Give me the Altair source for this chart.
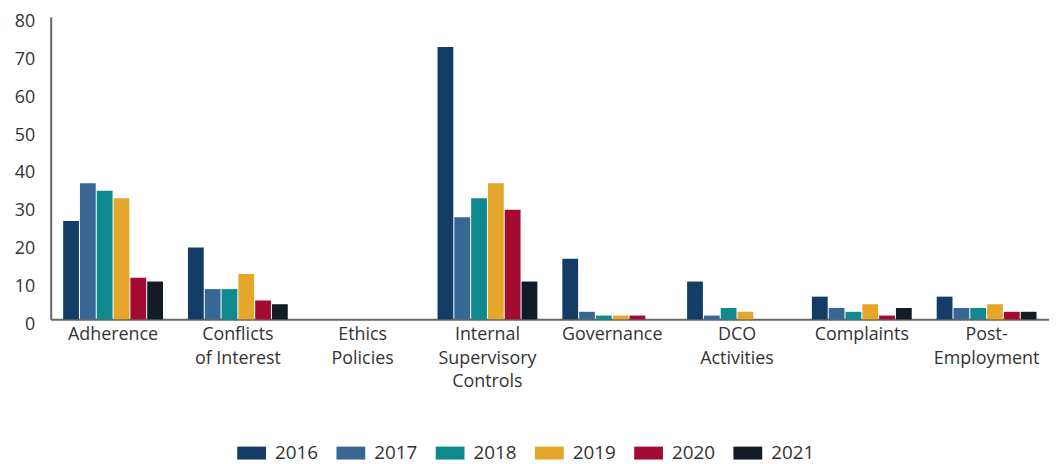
import altair as alt
import pandas as pd

categories = ["Adherence", "Conflicts|of Interest", "Ethics|Policies",
              "Internal|Supervisory|Controls", "Governance", "DCO|Activities",
              "Complaints", "Post-|Employment"]
years = ["2016", "2017", "2018", "2019", "2020", "2021"]
v2016 = [26, 19, 0, 72, 16, 10, 6, 6]
v2017 = [36, 8, 0, 27, 2, 1, 3, 3]
v2018 = [34, 8, 0, 32, 1, 3, 2, 3]
v2019 = [32, 12, 0, 36, 1, 2, 4, 4]
v2020 = [11, 5, 0, 29, 1, 0, 1, 2]
v2021 = [10, 4, 0, 10, 0, 0, 3, 2]
colors = ["#133d66", "#386796", "#0e898d", "#e5a62c", "#a30b33", "#111c26"]

series = [v2016, v2017, v2018, v2019, v2020, v2021]
rows = []
for y, vals in zip(years, series):
    for c, v in zip(categories, vals):
        rows.append({"category": c, "year": y, "value": v})
df = pd.DataFrame(rows)

FONT = "Open Sans"
chart = alt.Chart(df).mark_bar().encode(
    x=alt.X("category:N", sort=categories, title=None,
            scale=alt.Scale(paddingInner=0.2, paddingOuter=0.1),
            axis=alt.Axis(labelAngle=0, ticks=False, domainColor="#666666",
                          domainWidth=2, labelExpr="split(datum.label, '|')",
                          labelFontSize=18, labelColor="#333333", labelFont=FONT,
                          labelPadding=6, labelLineHeight=24)),
    xOffset=alt.XOffset("year:N", sort=years,
                        scale=alt.Scale(paddingInner=0.06)),
    y=alt.Y("value:Q", title=None,
            scale=alt.Scale(domain=[0, 80]),
            axis=alt.Axis(values=[0, 10, 20, 30, 40, 50, 60, 70, 80], grid=False,
                          ticks=False, domainColor="#666666", domainWidth=2,
                          labelFontSize=18, labelColor="#333333", labelFont=FONT,
                          labelPadding=16, labelBaseline="middle", labelOffset=5)),
    color=alt.Color("year:N", sort=years,
                    scale=alt.Scale(domain=years, range=colors),
                    legend=alt.Legend(title=None, orient="none", direction="horizontal",
                                      legendX=188, legendY=425,
                                      symbolType="M-1,-0.45h2v0.9h-2z", symbolSize=841,
                                      symbolStrokeWidth=0, symbolOpacity=1,
                                      labelFontSize=19, labelColor="#333333", labelFont=FONT,
                                      labelOffset=9, columnPadding=18)),
).properties(
    width=1006, height=305,
    autosize=alt.AutoSizeParams(type="none"),
    padding={"left": 43, "top": 7, "right": 0, "bottom": 144},
).configure_view(stroke=None)

chart.save("out.html", embed_options={"renderer": "svg", "actions": False})
